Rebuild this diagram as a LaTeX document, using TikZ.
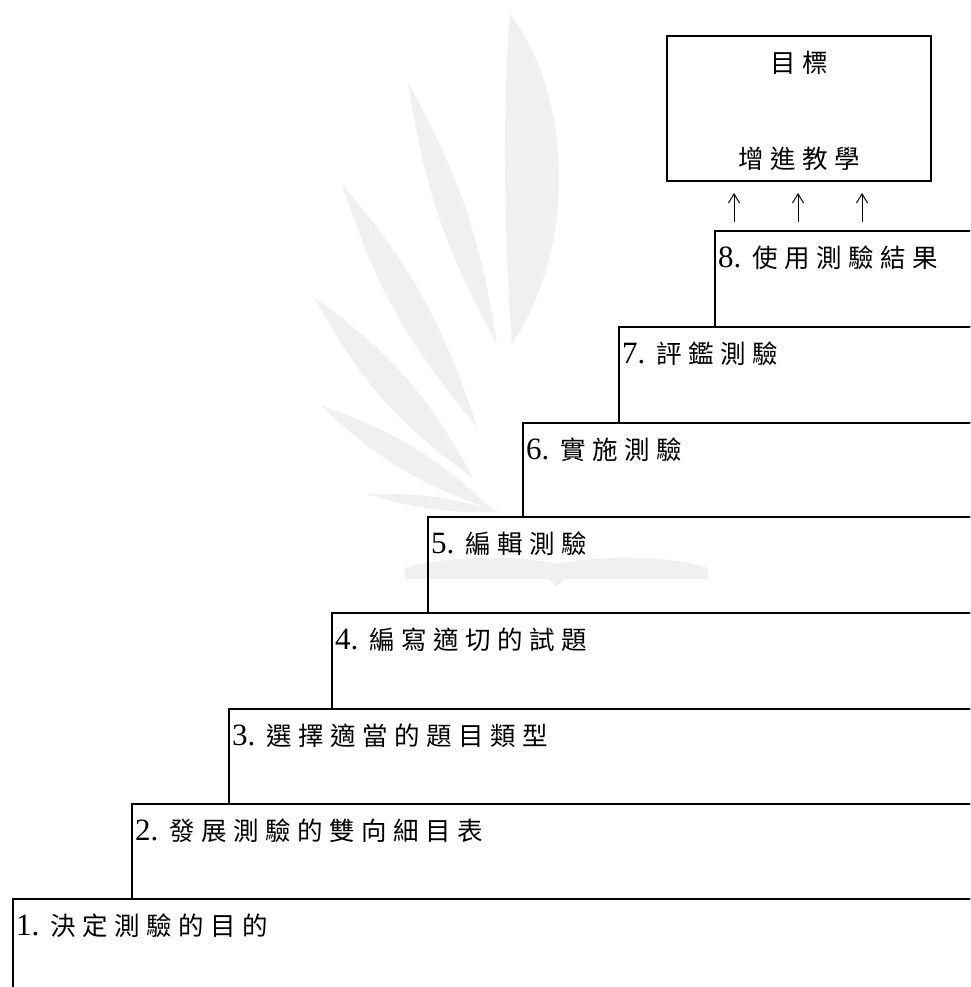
\documentclass[tikz,border=0pt]{standalone}
\usepackage{fontspec}
\newfontfamily\cjk{Noto Sans CJK TC}
\newfontfamily\numfont{Liberation Serif}
\usetikzlibrary{arrows.meta}
\newlength\cjkgap \setlength\cjkgap{6.5pt}
\makeatletter
\def\spacedtxt#1{\spaced@a#1\relax}
\def\spaced@a#1{#1\spaced@b}
\def\spaced@b#1{\ifx\relax#1\else\hspace{\cjkgap}#1\expandafter\spaced@b\fi}
\makeatother
\newcommand\steplabel[2]{\makebox[34pt][l]{\numfont\fontsize{31}{31}\selectfont #1}{\cjk\fontsize{25.5}{25.5}\selectfont\spacedtxt{#2}}}
\tikzset{
  wm/.style={fill=black!6},
  stepbox/.style={draw, line width=1.8pt, anchor=north west, inner sep=0pt},
  steptext/.style={anchor=base west, inner sep=0pt},
  goalbox/.style={draw, line width=1.8pt, inner sep=0pt, minimum width=264pt, minimum height=145pt},
  goaltext/.style={inner sep=0pt, font=\cjk\fontsize{25.5}{25.5}\selectfont},
  uparrow/.style={line width=1pt, -{Straight Barb[length=9pt,width=11pt,line width=1pt]}}
}
\begin{document}
\begin{tikzpicture}[x=1pt,y=-1pt]
\useasboundingbox (0,0) rectangle (970,987);
\clip (0,0) rectangle (970,987);
% faint watermark
\fill[wm] (512,344) .. controls (503,230) and (503,90) .. (510,14)
  .. controls (575,100) and (575,250) .. cycle;
\fill[wm] (497,344) to[bend left=10] (408,83) to[bend left=10] cycle;
\fill[wm] (477,427) to[bend left=11] (342,184) to[bend left=11] cycle;
\fill[wm] (473,478) to[bend left=13] (315,298) to[bend left=13] cycle;
\fill[wm] (493,510) to[bend left=12] (320,405) to[bend left=12] cycle;
\fill[wm] (500,512) to[bend left=9] (367,494) to[bend left=9] cycle;
\fill[wm] (405,568) .. controls (450,555) and (520,555) .. (557,564)
  .. controls (600,555) and (670,555) .. (708,568) -- (708,579)
  -- (565,579) -- (557,586) -- (549,579) -- (405,579) -- cycle;
% steps
\node[stepbox, minimum width=1000pt, minimum height=120pt] (s1) at (12,898) {};
\node[stepbox, minimum width=1000pt, minimum height=95pt] (s2) at (131,803) {};
\node[stepbox, minimum width=1000pt, minimum height=95pt] (s3) at (228,708) {};
\node[stepbox, minimum width=1000pt, minimum height=96pt] (s4) at (331,612) {};
\node[stepbox, minimum width=1000pt, minimum height=96pt] (s5) at (427,516) {};
\node[stepbox, minimum width=1000pt, minimum height=94pt] (s6) at (522,422) {};
\node[stepbox, minimum width=1000pt, minimum height=96pt] (s7) at (618,326) {};
\node[stepbox, minimum width=1000pt, minimum height=96pt] (s8) at (714,230) {};
\node[steptext] (t1) at (16,935) {\steplabel{1.}{決定測驗的目的}};
\node[steptext] (t2) at (135,840) {\steplabel{2.}{發展測驗的雙向細目表}};
\node[steptext] (t3) at (232,745) {\steplabel{3.}{選擇適當的題目類型}};
\node[steptext] (t4) at (335,649) {\steplabel{4.}{編寫適切的試題}};
\node[steptext] (t5) at (431,553) {\steplabel{5.}{編輯測驗}};
\node[steptext] (t6) at (526,459) {\steplabel{6.}{實施測驗}};
\node[steptext] (t7) at (622,363) {\steplabel{7.}{評鑑測驗}};
\node[steptext] (t8) at (718,267) {\steplabel{8.}{使用測驗結果}};
% goal
\node[goalbox] (goal) at (799,108.5) {};
\node[goaltext] (goalA) at (799,63) {\spacedtxt{目標}};
\node[goaltext] (goalB) at (799,159) {\spacedtxt{增進教學}};
% arrows
\coordinate (a1s) at (734,222); \coordinate (a1e) at (734,193);
\coordinate (a2s) at (798,222); \coordinate (a2e) at (798,193);
\coordinate (a3s) at (862,222); \coordinate (a3e) at (862,193);
\draw[uparrow] (a1s) -- (a1e);
\draw[uparrow] (a2s) -- (a2e);
\draw[uparrow] (a3s) -- (a3e);
\end{tikzpicture}
\end{document}
